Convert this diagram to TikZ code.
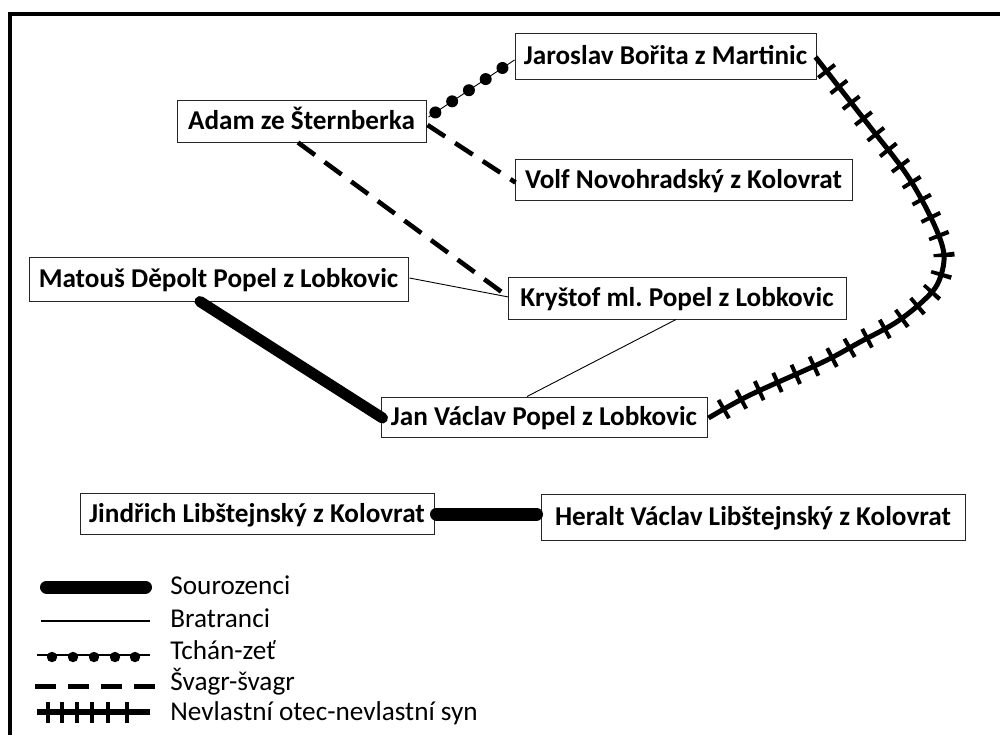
\documentclass[tikz,border=0pt]{standalone}
\usepackage{fontspec}
\setmainfont{Carlito}
\usetikzlibrary{calc}
\frenchspacing
\begin{document}
\begin{tikzpicture}[x=0.5pt,y=-0.5pt,
 person/.style={draw=black!85, line width=0.5pt, fill=white, inner sep=0pt,
   font=\bfseries\fontsize{13.6}{16}\selectfont, text height=8.7pt, text depth=0pt},
 sib/.style={line width=6pt, line cap=round},
 cousin/.style={line width=0.45pt},
 inlawline/.style={line width=0.45pt},
 inlawdot/.style={fill=black},
 swline/.style={line width=2.3pt, dash pattern=on 10.5pt off 6pt},
 steprail/.style={line width=2.5pt},
 stepticks/.style={line width=10.5pt, dash pattern=on 2pt off 8pt, dash phase=2pt},
 legtext/.style={anchor=base west, inner sep=0pt, font=\fontsize{13.6}{16}\selectfont}
]
\useasboundingbox (0,0) rectangle (1000,735);
\fill[white] (0,0) rectangle (1000,735);
% frame
\draw[line width=2pt] (10,735) -- (10,14) -- (1000,14);

% persons
\node[person, minimum width=124.5pt, minimum height=21pt] (adam) at (301.5,121) {Adam ze Šternberka};
\node[person, minimum width=150.5pt, minimum height=23pt] (jar) at (665.5,56) {Jaroslav Bořita z Martinic};
\node[person, minimum width=168.5pt, minimum height=20.5pt] (volf) at (683.5,179.5) {Volf Novohradský z Kolovrat};
\node[person, minimum width=189.5pt, minimum height=22pt] (mat) at (218.5,279) {Matouš Děpolt Popel z Lobkovic};
\node[person, minimum width=169pt, minimum height=21pt] (kry) at (677,298) {Kryštof ml. Popel z Lobkovic};
\node[person, minimum width=163pt, minimum height=20pt] (jan) at (544,417) {Jan Václav Popel z Lobkovic};
\node[person, minimum width=177pt, minimum height=20.5pt] (jin) at (257,513.5) {Jindřich Libštejnský z Kolovrat};
\node[person, minimum width=212pt, minimum height=23pt] (her) at (753,517) {Heralt Václav Libštejnský z Kolovrat};

% connector end points
\coordinate (aE1) at ($(adam.east)+(2,-4)$);
\coordinate (jW) at ($(jar.west)+(0,4)$);
\coordinate (aE2) at ($(adam.east)+(1,4)$);
\coordinate (vW) at ($(volf.west)+(1,3)$);
\coordinate (aS) at ($(adam.south)+(-3.5,0)$);
\coordinate (kW) at ($(kry.west)+(1,-1)$);
\coordinate (mE) at ($(mat.east)+(1,-1)$);
\coordinate (kS) at ($(kry.south)+(-1,0)$);
\coordinate (jN) at ($(jan.north)+(-17,0)$);
\coordinate (mS) at ($(mat.south)+(-18.5,0)$);
\coordinate (jaW) at ($(jan.west)+(2,1)$);
\coordinate (jiE) at ($(jin.east)+(2,0.5)$);
\coordinate (hW) at ($(her.west)+(-4,-3)$);
\coordinate (jrE) at ($(jar.east)+(-1,1)$);
\coordinate (jaE) at ($(jan.east)+(1,1)$);

% Tchan-zet
\draw[inlawline] (aE1) -- (jW);
\foreach \p in {0.08,0.275,0.47,0.665,0.86}
  \fill[inlawdot] ($(aE1)!\p!(jW)$) circle[radius=3pt];

% Svagr-svagr
\draw[swline] (aE2) -- (vW);
\draw[swline] (aS) -- (kW);

% Bratranci
\draw[cousin] (mE) -- (kW);
\draw[cousin] (kS) -- (jN);

% Sourozenci
\draw[sib, line width=5.5pt] (mS) -- (jaW);
\draw[sib, line width=6.5pt] (jiE) -- (hW);

% Nevlastni otec - nevlastni syn
\def\steppath{plot[smooth, tension=0.55] coordinates {(jrE) (867,123) (907,175) (933,222) (944,255) (938,283) (922,302) (895,323) (860,342) (823,362) (750,395) (jaE)}}
\draw[steprail] \steppath;
\draw[stepticks] \steppath;

% legend
\coordinate (l1a) at (46.5,587); \coordinate (l1b) at (145.5,587);
\draw[sib, line width=6.5pt] (l1a) -- (l1b);
\node[legtext] (t1) at (170,594) {Sourozenci};

\coordinate (l2a) at (41,621); \coordinate (l2b) at (150,621);
\draw[cousin, line width=0.6pt] (l2a) -- (l2b);
\node[legtext] (t2) at (170,627) {Bratranci};

\coordinate (l3a) at (37,655); \coordinate (l3b) at (150,655);
\draw[inlawline, line width=0.6pt] (l3a) -- (l3b);
\foreach \x in {52,73,94,115,135}
  \fill[inlawdot] (\x,657) circle[radius=2.6pt];
\node[legtext] (t3) at (170,659) {Tchán-zeť};

\coordinate (l4a) at (35,686); \coordinate (l4b) at (157,686);
\draw[line width=2.5pt, dash pattern=on 10.5pt off 6pt] (l4a) -- (l4b);
\node[legtext] (t4) at (170,690) {Švagr-švagr};

\coordinate (l5a) at (37,712); \coordinate (l5b) at (150,712);
\draw[line width=3pt] (l5a) -- (l5b);
\foreach \x in {48,62,77,92,108,127}
  \draw[line width=2pt] (\x,702) -- (\x,723);
\node[legtext] (t5) at (170,720) {Nevlastní otec-nevlastní syn};
\end{tikzpicture}
\end{document}
